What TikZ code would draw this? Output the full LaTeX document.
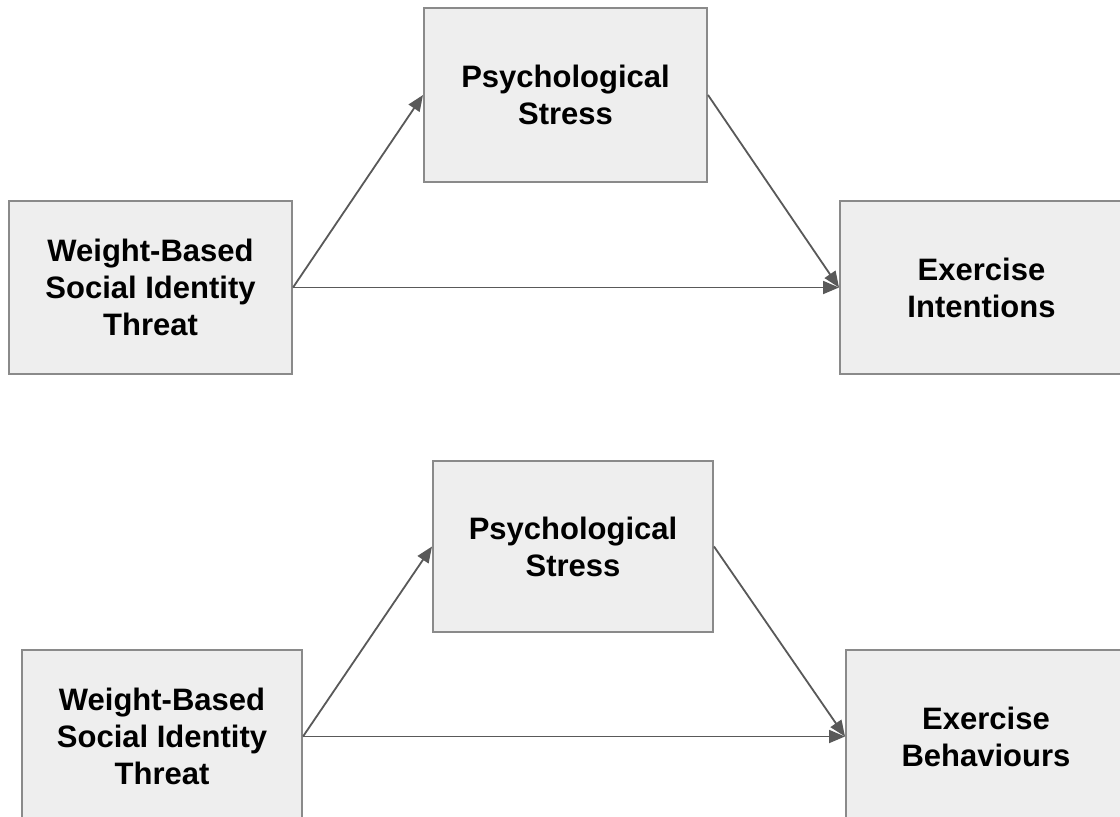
\documentclass[tikz,border=0pt]{standalone}
\usepackage{fontspec}
\setmainfont{Liberation Sans}
\usetikzlibrary{arrows.meta}
\definecolor{boxfill}{HTML}{EEEEEE}
\definecolor{boxline}{HTML}{8A8A8A}
\definecolor{arrowcol}{HTML}{595959}
\begin{document}
\begin{tikzpicture}[x=1pt,y=-1pt,
  varbox/.style={draw=boxline, fill=boxfill, line width=2pt, rectangle, align=center,
    inner sep=0pt, font=\fontsize{31}{37}\selectfont\bfseries, text=black},
  link/.style={draw=arrowcol, line width=1.8pt, -{Triangle[length=16pt,width=13pt]}}]
\useasboundingbox[fill=white] (0,0) rectangle (1120,817);
% top diagram
\node[varbox, minimum width=283pt, minimum height=173pt] (w1) at (150.5,287.5) {Weight-Based\\Social Identity\\Threat};
\node[varbox, minimum width=283pt, minimum height=174pt] (p1) at (565.5,95) {Psychological\\Stress};
\node[varbox, minimum width=283pt, minimum height=173pt] (e1) at (981.5,287.5) {Exercise\\Intentions};
\draw[link] (w1.east) -- (p1.west);
\draw[link] (p1.east) -- (e1.west);
\draw[link] (w1.east) -- (e1.west);
% bottom diagram
\node[varbox, minimum width=280pt, minimum height=173pt] (w2) at (162,736.5) {Weight-Based\\Social Identity\\Threat};
\node[varbox, minimum width=280pt, minimum height=171pt] (p2) at (573,546.5) {Psychological\\Stress};
\node[varbox, minimum width=280pt, minimum height=173pt] (e2) at (986,736.5) {Exercise\\Behaviours};
\draw[link] (w2.east) -- (p2.west);
\draw[link] (p2.east) -- (e2.west);
\draw[link] (w2.east) -- (e2.west);
\end{tikzpicture}
\end{document}
